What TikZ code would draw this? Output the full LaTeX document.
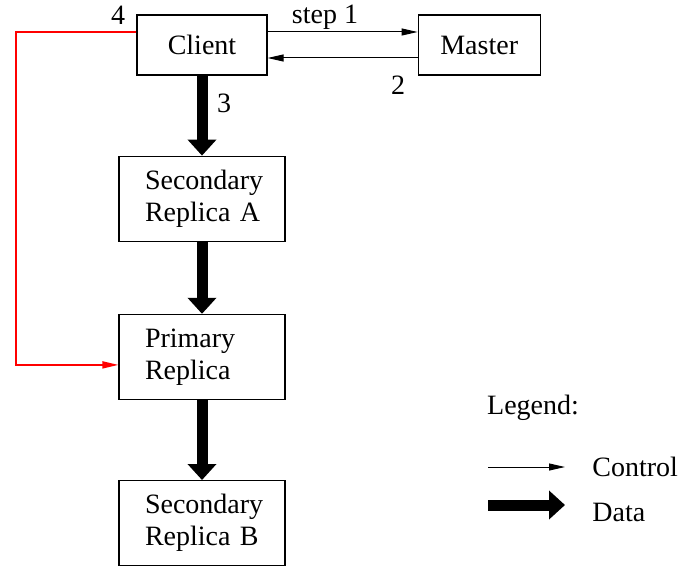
\documentclass[tikz,border=0pt]{standalone}
\usepackage{fontspec}
\setmainfont{Liberation Serif}
\usepackage{tikz}
\usetikzlibrary{positioning,arrows.meta}

\begin{document}
\begin{tikzpicture}[
    font=\fontsize{14}{16}\selectfont,
    node distance=40pt and 75pt,
    box/.style={rectangle, draw, line width=0.6pt, minimum height=30pt, inner sep=0pt},
    replica/.style={rectangle, draw, line width=0.6pt, minimum width=83pt, minimum height=42.5pt, text width=57pt, inner xsep=13pt, inner ysep=0pt, align=left},
    ctrl/.style={-{Triangle[length=8pt, width=3.5pt]}, line width=0.5pt},
    data/.style={-{Triangle[length=8pt, width=14pt]}, line width=5.5pt},
    lbl/.style={inner sep=0pt}
]
\useasboundingbox (0,0) rectangle (341.5pt,-286pt);

\node[box, minimum width=65pt] (Client) at (101pt,-22.5pt) {Client};
\node[box, minimum width=61pt, right=75pt of Client] (Master) {Master};

\node[replica, below=40pt of Client] (SecA) {Secondary\\Replica~A};
\node[replica, below=36pt of SecA] (Primary) {Primary\\Replica};
\node[replica, below=40pt of Primary] (SecB) {Secondary\\Replica~B};

% control flow
\draw[ctrl] ([yshift=6.5pt]Client.east) -- ([yshift=6.5pt]Master.west);
\draw[ctrl] ([yshift=-6.5pt]Master.west) -- ([yshift=-6.5pt]Client.east);
\node[lbl] (s1) at (162.5pt,-8.5pt) {step 1};
\node[lbl] (s2) at (199pt,-42.5pt) {2};

% data flow
\draw[data] (Client) -- (SecA);
\draw[data] (SecA) -- (Primary);
\draw[data] (Primary) -- (SecB);
\node[lbl] (s3) at (112pt,-51.5pt) {3};

% step 4
\coordinate (turn) at (8pt,-16pt);
\draw[ctrl, red, line width=0.8pt] ([yshift=6.5pt]Client.west) -- (turn) |- ([yshift=-4pt]Primary.west);
\node[lbl] (s4) at (59pt,-7.5pt) {4};

% legend
\node[lbl] (Legend) at (266.5pt,-204pt) {Legend:};
\coordinate (c1) at (244pt,-233.5pt);
\coordinate (c2) at (282.5pt,-233.5pt);
\coordinate (d1) at (244pt,-252.5pt);
\coordinate (d2) at (282.5pt,-252.5pt);
\draw[ctrl] (c1) -- (c2);
\draw[data] (d1) -- (d2);
\node[lbl, anchor=west] (Control) at (296pt,-233.5pt) {Control};
\node[lbl, anchor=west] (Data) at (296pt,-256pt) {Data};

\end{tikzpicture}
\end{document}
